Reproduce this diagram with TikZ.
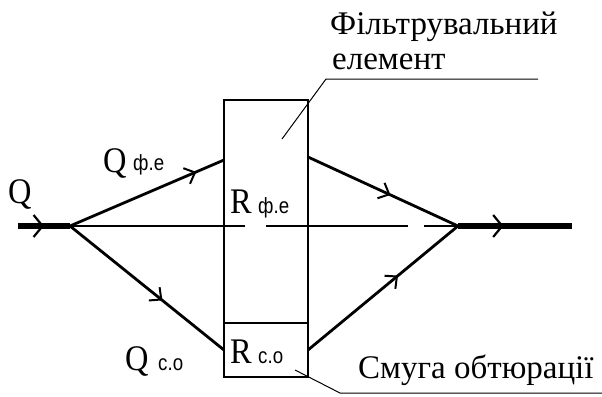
\documentclass[tikz,border=0pt]{standalone}
\usepackage{fontspec}
\setmainfont{Liberation Serif}
\newfontfamily\letterfont[FakeStretch=0.9]{Liberation Serif}
\newfontfamily\subfont[FakeStretch=0.85]{Liberation Sans}
\usetikzlibrary{arrows.meta,decorations.markings}
\tikzset{
  thinline/.style={line width=1.4pt},
  branch/.style={line width=2.8pt},
  mainline/.style={line width=5.5pt},
  leader/.style={line width=1pt},
  midarrow/.style={postaction={decorate},decoration={markings,
     mark=at position #1 with {\arrow{Straight Barb[length=9pt,width=17pt,line width=2pt]}}}},
  bigarrow/.style={postaction={decorate},decoration={markings,
     mark=at position #1 with {\arrow{Straight Barb[length=9pt,width=22pt,line width=2.2pt]}}}},
  bigletter/.style={font=\letterfont\fontsize{36}{36}\selectfont, inner sep=0pt, anchor=base west},
  subtext/.style={font=\subfont\fontsize{22}{22}\selectfont, inner sep=0pt, anchor=base west},
  caption/.style={font=\fontsize{33}{35}\selectfont, inner sep=0pt, anchor=base west, align=left},
}
\begin{document}
\begin{tikzpicture}[x=1pt,y=-1pt]
\useasboundingbox (0,0) rectangle (602,396);
% coordinates
\coordinate (in) at (18,226);
\coordinate (split) at (70,226);
\coordinate (join) at (458,226);
\coordinate (out) at (572,226);
\coordinate (ul) at (224,160);
\coordinate (ur) at (308,157);
\coordinate (ll) at (224,350);
\coordinate (lr) at (308,350);
\coordinate (g1) at (245,226);
\coordinate (g2) at (266,226);
\coordinate (g3) at (408,226);
\coordinate (g4) at (424,226);
% box
\node[draw, thinline, minimum width=84pt, minimum height=277pt, inner sep=0pt] (box) at (266,238.5) {};
\coordinate (dl) at (224,323);
\coordinate (dr) at (308,323);
\draw[thinline] (dl) -- (dr);
% main line
\draw[mainline, bigarrow=0.5] (in) -- (split);
\draw[mainline, bigarrow=0.4] (join) -- (out);
\draw[thinline] (split) -- (g1);
\draw[thinline] (g2) -- (g3);
\draw[thinline] (g4) -- (join);
% branches
\draw[branch, midarrow=0.82] (split) -- (ul);
\draw[branch, midarrow=0.6] (split) -- (ll);
\draw[branch, midarrow=0.55] (ur) -- (join);
\draw[branch, midarrow=0.6] (lr) -- (join);
% labels
\node[bigletter] (q) at (8,203) {Q};
\node[bigletter] (qfe) at (103,172) {Q};
\node[subtext] (qfes) at (133,170) {ф.е};
\node[bigletter] (qco) at (125,370) {Q};
\node[subtext] (qcos) at (158,370) {с.о};
\node[bigletter] (rfe) at (230,213) {R};
\node[subtext] (rfes) at (258,213) {ф.е};
\node[bigletter] (rco) at (230,363) {R};
\node[subtext] (rcos) at (258,363) {с.о};
% captions
\node[caption] (fe1) at (330,35) {Фільтрувальний};
\node[caption] (fe2) at (332,70) {елемент};
\node[caption] (so) at (358,378) {Смуга обтюрації};
% leaders
\coordinate (l1a) at (282,139);
\coordinate (l1b) at (326,79);
\coordinate (l1c) at (538,79);
\draw[leader] (l1a) -- (l1b) -- (l1c);
\coordinate (l2a) at (295,370);
\coordinate (l2b) at (340,393);
\coordinate (l2c) at (602,393);
\draw[leader] (l2a) -- (l2b) -- (l2c);
\end{tikzpicture}
\end{document}
